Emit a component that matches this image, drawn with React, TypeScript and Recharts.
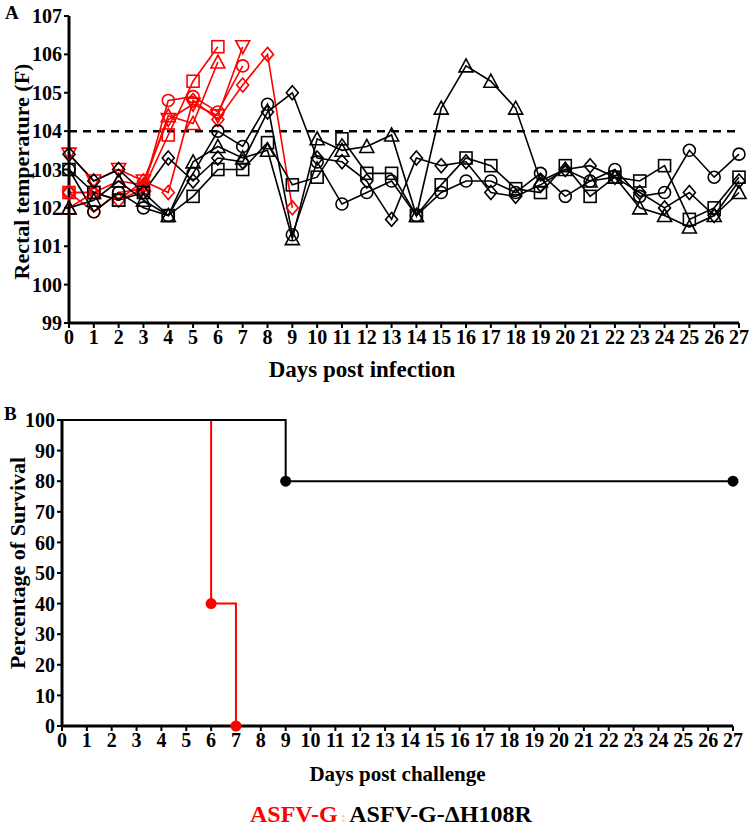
import React from "react";
import { LineChart, Line, XAxis, YAxis, ReferenceLine, Label } from "recharts";

const FONT = '"Liberation Serif", "Times New Roman", serif';
const RED = "#ff0000";

// Panel A: rectal temperature by day
const days = [0, 1, 2, 3, 4, 5, 6, 7, 8, 9, 10, 11, 12, 13, 14, 15, 16, 17, 18, 19, 20, 21, 22, 23, 24, 25, 26, 27];
const tempTicks = [99, 100, 101, 102, 103, 104, 105, 106, 107];
const feverLine = 104;

const redSquare = [102.4, 102.4, 102.2, 102.5, 103.9, 105.3, 106.2];
const redTriangle = [102.0, 102.4, 102.7, 102.6, 104.4, 104.2, 105.8];
const redCircle = [102.4, 101.9, 102.4, 102.5, 104.8, 104.9, 104.5, 105.7];
const redTriangleDown = [103.4, 102.7, 103.0, 102.7, 104.3, 104.7, 104.4, 106.2];
const redDiamond = [102.4, 102.4, 102.2, 102.7, 102.4, 104.8, 104.3, 105.2, 106.0, 102.0];

const blackCircle = [103.0, 101.9, 102.4, 102.0, 101.8, 102.9, 104.0, 103.6, 104.7, 101.3, 103.2, 102.1, 102.4, 102.7, 101.8, 102.4, 102.7, 102.7, 102.4, 102.9, 102.3, 102.7, 103.0, 102.3, 102.4, 103.5, 102.8, 103.4];
const blackSquare = [103.0, 102.4, 102.2, 102.4, 101.8, 102.3, 103.0, 103.0, 103.7, 102.6, 102.8, 103.8, 102.9, 102.9, 101.8, 102.6, 103.3, 103.1, 102.5, 102.4, 103.1, 102.3, 102.8, 102.7, 103.1, 101.7, 102.0, 102.8];
const blackTriangle = [102.0, 102.2, 102.7, 102.2, 101.8, 103.2, 103.6, 103.3, 103.5, 101.2, 103.8, 103.5, 103.6, 103.9, 101.8, 104.6, 105.7, 105.3, 104.6, 102.7, 103.0, 102.7, 102.8, 102.0, 101.8, 101.5, 101.8, 102.4];
const blackDiamond = [103.4, 102.7, 103.0, 102.4, 103.3, 102.7, 103.3, 103.2, 104.5, 105.0, 103.3, 103.2, 102.7, 101.7, 103.3, 103.1, 103.2, 102.4, 102.3, 102.6, 103.0, 103.1, 102.8, 102.4, 102.0, 102.4, 101.8, 102.7];

// Panel B: survival (Kaplan-Meier steps)
const survivalTicks = [0, 10, 20, 30, 40, 50, 60, 70, 80, 90, 100];
const redSurvDays = [0, 6, 7];
const redSurvPct = [100, 40, 0];
const blackSurvDays = [0, 9, 27];
const blackSurvPct = [100, 80, 80];

const series = [
  { key: "rSq", values: redSquare, color: RED, shape: "square" },
  { key: "rTr", values: redTriangle, color: RED, shape: "triangle" },
  { key: "rCi", values: redCircle, color: RED, shape: "circle" },
  { key: "rTd", values: redTriangleDown, color: RED, shape: "triangleDown" },
  { key: "rDi", values: redDiamond, color: RED, shape: "diamond" },
  { key: "bCi", values: blackCircle, color: "#000", shape: "circle" },
  { key: "bSq", values: blackSquare, color: "#000", shape: "square" },
  { key: "bTr", values: blackTriangle, color: "#000", shape: "triangle" },
  { key: "bDi", values: blackDiamond, color: "#000", shape: "diamond" },
];

const tempRows = days.map((d, i) => {
  const row: Record<string, number | null> = { day: d };
  series.forEach((s) => {
    row[s.key] = i < s.values.length ? s.values[i] : null;
  });
  return row;
});

const redSurvRows = redSurvDays.map((d, i) => ({ day: d, pct: redSurvPct[i], mark: i > 0 }));
const blackSurvRows = blackSurvDays.map((d, i) => ({ day: d, pct: blackSurvPct[i], mark: i > 0 }));

const Marker = ({ cx, cy, shape, color }: any) => {
  if (cx == null || cy == null || isNaN(cy)) return <g />;
  const s = 6;
  const common = { fill: "none", stroke: color, strokeWidth: 1.6 };
  if (shape === "circle") return <circle cx={cx} cy={cy} r={s} {...common} />;
  if (shape === "square") return <rect x={cx - s} y={cy - s} width={s * 2} height={s * 2} {...common} />;
  if (shape === "triangle")
    return <polygon points={`${cx},${cy - s - 1} ${cx - s - 1},${cy + s} ${cx + s + 1},${cy + s}`} {...common} />;
  if (shape === "triangleDown")
    return <polygon points={`${cx},${cy + s + 1} ${cx - s - 1},${cy - s} ${cx + s + 1},${cy - s}`} {...common} />;
  return <polygon points={`${cx},${cy - s - 1} ${cx + s},${cy} ${cx},${cy + s + 1} ${cx - s},${cy}`} {...common} />;
};

// rotated y-axis title, centred on the axis box with an optional shift
const VTitle = ({ viewBox, text, left, shift, size }: any) => {
  const x = viewBox.x + left;
  const y = viewBox.y + viewBox.height / 2 + shift;
  return (
    <text
      x={x}
      y={y}
      transform={`rotate(-90, ${x}, ${y})`}
      textAnchor="middle"
      dominantBaseline="central"
      fill="#000"
      fontSize={size}
      fontWeight={700}
      fontFamily={FONT}
    >
      {text}
    </text>
  );
};

const tickStyle = { fill: "#000", fontSize: 20, fontWeight: 700, fontFamily: FONT };
const axisLine = { stroke: "#000", strokeWidth: 3 };
const tickLine = { stroke: "#000", strokeWidth: 2 };
const titleStyle = { fill: "#000", fontWeight: 700, fontFamily: FONT };

export default function App() {
  return (
    <div style={{ position: "absolute", left: 0, top: 0, width: 750, height: 829, background: "#fff", fontFamily: FONT }}>
      <div style={{ position: "absolute", left: 0, top: 0 }}>
        <LineChart width={750} height={390} data={tempRows} margin={{ top: 16, right: 11, left: 0, bottom: 11 }} style={{ fontFamily: FONT }}>
          <XAxis
            type="number"
            dataKey="day"
            domain={[0, 27]}
            ticks={days}
            interval={0}
            tick={tickStyle}
            axisLine={axisLine}
            tickLine={tickLine}
            tickSize={5}
            height={56}
            label={{ value: "Days post infection", position: "insideBottom", offset: 2, dx: -42, style: { ...titleStyle, fontSize: 23 } }}
          />
          <YAxis
            type="number"
            domain={[99, 107]}
            ticks={tempTicks}
            interval={0}
            tick={tickStyle}
            axisLine={axisLine}
            tickLine={tickLine}
            tickSize={5}
            width={69}
          >
            <Label content={(p: any) => <VTitle viewBox={p.viewBox} text="Rectal temperature (F)" left={21} shift={2} size={22} />} />
          </YAxis>
          <ReferenceLine y={feverLine} stroke="#000" strokeWidth={2.5} strokeDasharray="8 6" />
          {series.map((s) => (
            <Line
              key={s.key}
              dataKey={s.key}
              stroke={s.color}
              strokeWidth={1.6}
              type="linear"
              isAnimationActive={false}
              connectNulls={false}
              dot={(p: any) => <Marker key={`${s.key}-${p.index}`} cx={p.cx} cy={p.cy} shape={s.shape} color={s.color} />}
              activeDot={false}
            />
          ))}
        </LineChart>
      </div>
      <div style={{ position: "absolute", left: 5, top: 3, fontSize: 19, fontWeight: 700, lineHeight: 1 }}>A</div>

      <div style={{ position: "absolute", left: 0, top: 400 }}>
        <LineChart width={750} height={400} margin={{ top: 20, right: 17, left: 0, bottom: 16 }} style={{ fontFamily: FONT }}>
          <XAxis
            type="number"
            dataKey="day"
            domain={[0, 27]}
            ticks={days}
            interval={0}
            tick={tickStyle}
            axisLine={axisLine}
            tickLine={tickLine}
            tickSize={5}
            height={58}
            allowDuplicatedCategory={false}
            label={{ value: "Days post challenge", position: "insideBottom", offset: 3, style: { ...titleStyle, fontSize: 21 } }}
          />
          <YAxis
            type="number"
            domain={[0, 100]}
            ticks={survivalTicks}
            interval={0}
            tick={tickStyle}
            axisLine={axisLine}
            tickLine={tickLine}
            tickSize={5}
            width={62}
          >
            <Label content={(p: any) => <VTitle viewBox={p.viewBox} text="Percentage of Survival" left={17} shift={-10} size={22} />} />
          </YAxis>
          <Line
            data={redSurvRows}
            dataKey="pct"
            type="stepAfter"
            stroke={RED}
            strokeWidth={2}
            isAnimationActive={false}
            activeDot={false}
            dot={(p: any) =>
              p.payload.mark ? <circle key={`r-${p.index}`} cx={p.cx} cy={p.cy} r={5.5} fill={RED} /> : <g key={`r-${p.index}`} />
            }
          />
          <Line
            data={blackSurvRows}
            dataKey="pct"
            type="stepAfter"
            stroke="#000"
            strokeWidth={2}
            isAnimationActive={false}
            activeDot={false}
            dot={(p: any) =>
              p.payload.mark ? <circle key={`b-${p.index}`} cx={p.cx} cy={p.cy} r={5.5} fill="#000" /> : <g key={`b-${p.index}`} />
            }
          />
        </LineChart>
      </div>
      <div style={{ position: "absolute", left: 4, top: 404, fontSize: 19, fontWeight: 700, lineHeight: 1 }}>B</div>

      <div style={{ position: "absolute", left: 250, top: 802, fontSize: 24, fontWeight: 700, lineHeight: 1, whiteSpace: "nowrap" }}>
        <span style={{ color: RED }}>ASFV-G</span>
        <span style={{ color: "#f6c9a8", fontSize: 14 }}> : </span>
        <span style={{ color: "#000" }}>ASFV-G-ΔH108R</span>
      </div>
    </div>
  );
}
